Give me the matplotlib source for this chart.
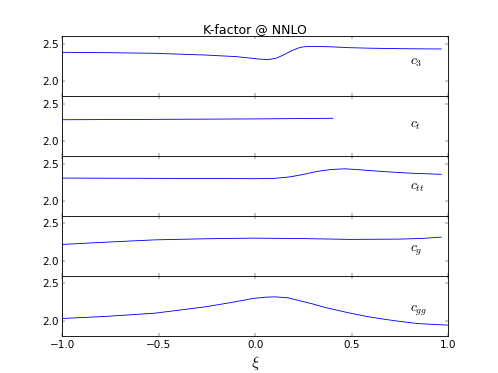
#K-factor at NNLO for the five couplings, one panel each.

import matplotlib
matplotlib.use('Agg')
import matplotlib.pyplot as plt

plt.style.use('classic')

# ---- values ----
xi_c3 = [-1.0, -0.75, -0.52, -0.26, -0.1, -0.03, 0.02, 0.068, 0.11, 0.146, 0.19, 0.233, 0.27, 0.302, 0.4, 0.492, 0.6, 0.751, 0.88, 0.964]
k_c3 = [2.387, 2.382, 2.374, 2.351, 2.33, 2.311, 2.297, 2.289, 2.31, 2.351, 2.41, 2.454, 2.465, 2.467, 2.46, 2.449, 2.442, 2.436, 2.433, 2.432]

xi_ct = [-1.0, -0.5, 0.0, 0.402]
k_ct = [2.286, 2.291, 2.297, 2.305]

xi_ctt = [-1.0, -0.5, 0.0, 0.1, 0.181, 0.25, 0.319, 0.39, 0.466, 0.55, 0.665, 0.8, 0.964]
k_ctt = [2.306, 2.302, 2.298, 2.302, 2.322, 2.355, 2.394, 2.42, 2.43, 2.415, 2.393, 2.372, 2.356]

xi_cg = [-1.0, -0.75, -0.52, -0.25, -0.009, 0.25, 0.492, 0.751, 0.87, 0.964]
k_cg = [2.219, 2.252, 2.28, 2.295, 2.303, 2.297, 2.286, 2.29, 2.3, 2.317]

xi_cgg = [-1.0, -0.778, -0.519, -0.26, -0.13, -0.009, 0.05, 0.103, 0.17, 0.233, 0.3, 0.362, 0.492, 0.58, 0.665, 0.75, 0.838, 0.92, 1.0]
k_cgg = [2.029, 2.056, 2.10, 2.184, 2.24, 2.297, 2.313, 2.318, 2.305, 2.265, 2.222, 2.176, 2.10, 2.055, 2.02, 1.99, 1.962, 1.95, 1.94]

labels = ['$c_3$', '$c_t$', '$c_{tt}$', '$c_g$', '$c_{gg}$']
label_y = [2.24, 2.195, 2.165, 2.135, 2.13]

series = [(xi_c3, k_c3), (xi_ct, k_ct), (xi_ctt, k_ctt), (xi_cg, k_cg), (xi_cgg, k_cgg)]

#======= MAIN =========
fig, axes = plt.subplots(5, 1, sharex = True, figsize = (8, 6.008), dpi = 62.25)
fig.subplots_adjust(left = 0.125, right = 0.9, top = 0.9, bottom = 0.1, hspace = 0.0)

for ax, (xs, ys), lab, ly in zip(axes, series, labels, label_y):
	ax.plot(xs, ys, 'b-', lw = 1.0)
	ax.set_xlim(-1.0, 1.0)
	ax.set_ylim(1.8, 2.6)
	ax.set_yticks([2.0, 2.5])
	ax.set_xticks([-1.0, -0.5, 0.0, 0.5, 1.0])
	ax.text(0.8, ly, lab, fontsize = 16, ha = 'left', va = 'baseline')

axes[0].set_title('K-factor @ NNLO')
axes[-1].set_xlabel(r'$\xi$', fontsize = 19)

fig.savefig('out.png', dpi = 62.25)
